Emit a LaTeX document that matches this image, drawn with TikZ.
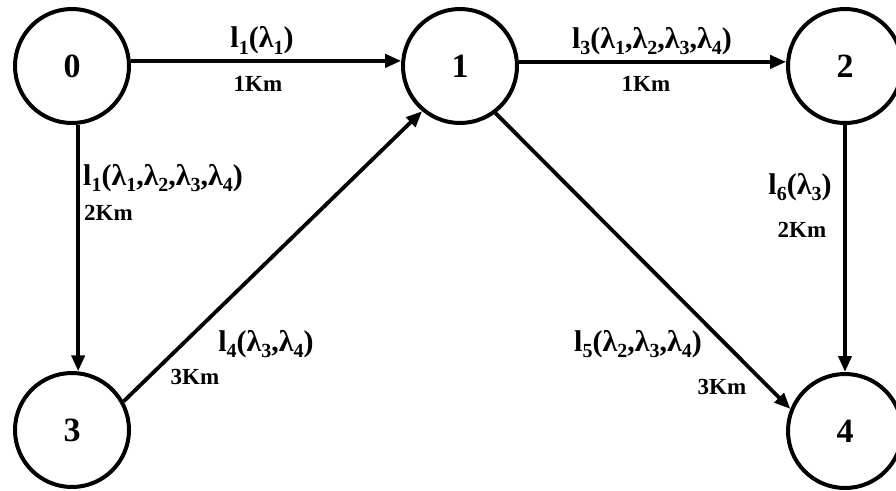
\documentclass[tikz,border=0pt]{standalone}
\usepackage{fontspec}
\setmainfont{Liberation Serif}
\usetikzlibrary{arrows.meta}
\newcommand{\lsub}[1]{\raisebox{-0.5ex}{\fontsize{20}{20}\selectfont #1}}
\tikzset{
  wdm node/.style={circle, draw, line width=4pt, minimum size=114pt,
    inner sep=0pt, font=\fontsize{34}{34}\selectfont\bfseries},
  wdm link/.style={-{Triangle[length=16pt,width=13pt]}, line width=3.8pt},
  wdm label/.style={font=\fontsize{30}{30}\selectfont\bfseries, inner sep=0pt},
  wdm dist/.style={font=\fontsize{23}{23}\selectfont\bfseries, inner sep=0pt}
}
\begin{document}
\begin{tikzpicture}[x=1pt,y=-1pt]
\useasboundingbox (0,0) rectangle (896,490);
% nodes
\node[wdm node] (n0) at (72,66) {0};
\node[wdm node] (n1) at (460,66) {1};
\node[wdm node] (n2) at (845,66) {2};
\node[wdm node] (n3) at (72,430) {3};
\node[wdm node] (n4) at (845,431) {4};
% links
\draw[wdm link] (n0.5) -- (n1.175);
\draw[wdm link] (n1.4) -- (n2.176);
\draw[wdm link] (n0.-84) -- (n3.84);
\draw[wdm link] (n3.29) -- (n1.230);
\draw[wdm link] (n1.-53) -- (n4.158);
\draw[wdm link] (n2.south) -- (n4.north);
% wavelengths and lengths
\node[wdm label] (w01) at (262,40) {l\lsub{1}(λ\lsub{1})};
\node[wdm dist] (d01) at (258,84) {1Km};
\node[wdm label] (w12) at (652,41) {l\lsub{3}(λ\lsub{1},λ\lsub{2},λ\lsub{3},λ\lsub{4})};
\node[wdm dist] (d12) at (646,84) {1Km};
\node[wdm label,anchor=west] (w03) at (83,178) {l\lsub{1}(λ\lsub{1},λ\lsub{2},λ\lsub{3},λ\lsub{4})};
\node[wdm dist,anchor=west] (d03) at (84,213) {2Km};
\node[wdm label] (w24) at (800,187) {l\lsub{6}(λ\lsub{3})};
\node[wdm dist] (d24) at (802,230) {2Km};
\node[wdm label] (w31) at (266,344) {l\lsub{4}(λ\lsub{3},λ\lsub{4})};
\node[wdm dist] (d31) at (195,377) {3Km};
\node[wdm label] (w14) at (638,344) {l\lsub{5}(λ\lsub{2},λ\lsub{3},λ\lsub{4})};
\node[wdm dist] (d14) at (722,387) {3Km};
\end{tikzpicture}
\end{document}
